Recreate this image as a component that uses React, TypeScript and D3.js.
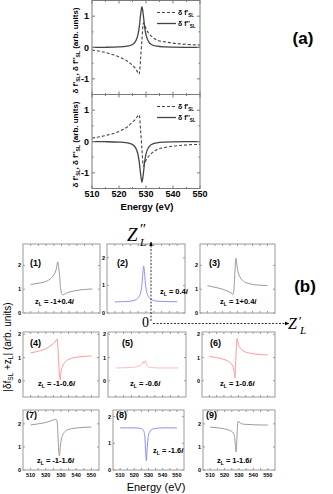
import React from "react";
import * as d3 from "d3";

// energy grid (eV) shared by all curves
const energy = [510, 515, 520, 523, 525, 526, 526.5, 527, 527.5, 528, 528.5, 529, 529.5, 530, 531, 532, 534, 537, 540, 545, 550];

// panel (a), upper: delta f' (dashed) and delta f'' (solid)
const dfReTop = [-0.08, -0.16, -0.3, -0.43, -0.57, -0.66, -0.73, -0.8, -0.85, -0.35, 0.25, 0.78, 0.72, 0.6, 0.45, 0.36, 0.24, 0.18, 0.14, 0.1, 0.08];
const dfImTop = [0.004, 0.007, 0.018, 0.042, 0.098, 0.18, 0.26, 0.4, 0.65, 1.04, 1.3, 1.04, 0.65, 0.4, 0.18, 0.098, 0.042, 0.018, 0.01, 0.005, 0.003];
// panel (a), lower
const dfReBot = [0.11, 0.19, 0.32, 0.46, 0.62, 0.7, 0.76, 0.82, 0.85, 0.35, -0.25, -0.78, -0.7, -0.6, -0.47, -0.38, -0.26, -0.19, -0.15, -0.11, -0.09];
const dfImBot = [-0.004, -0.007, -0.018, -0.042, -0.098, -0.18, -0.26, -0.4, -0.65, -1.04, -1.3, -1.04, -0.65, -0.4, -0.18, -0.098, -0.042, -0.018, -0.01, -0.005, -0.003];

// panel (b): |delta f_SL + z_L| for the nine z_L values
const abs1 = [1.2, 1.25, 1.33, 1.45, 1.6, 1.72, 1.82, 1.97, 2.15, 2.0, 1.75, 1.35, 1.0, 0.82, 0.76, 0.79, 0.86, 0.91, 0.95, 0.99, 1.01];
const abs2 = [0.4, 0.41, 0.43, 0.47, 0.55, 0.64, 0.72, 0.86, 1.1, 1.45, 1.7, 1.5, 1.15, 0.9, 0.66, 0.56, 0.47, 0.43, 0.42, 0.41, 0.41];
const abs3 = [1.15, 1.08, 1.0, 0.93, 0.87, 0.83, 0.8, 0.78, 0.9, 1.4, 2.0, 2.3, 2.05, 1.82, 1.6, 1.47, 1.33, 1.25, 1.2, 1.17, 1.15];
const abs4 = [1.2, 1.27, 1.38, 1.5, 1.6, 1.66, 1.71, 1.76, 1.8, 1.4, 0.8, 0.2, 0.05, 0.4, 0.62, 0.75, 0.88, 0.97, 1.01, 1.05, 1.07];
const abs5 = [0.55, 0.56, 0.57, 0.6, 0.64, 0.67, 0.7, 0.76, 0.84, 0.74, 0.78, 0.88, 0.76, 0.66, 0.6, 0.57, 0.56, 0.55, 0.55, 0.55, 0.55];
const abs6 = [1.05, 1.0, 0.92, 0.84, 0.74, 0.64, 0.56, 0.4, 0.12, 0.7, 1.4, 1.82, 1.7, 1.56, 1.43, 1.35, 1.26, 1.2, 1.16, 1.13, 1.11];
const abs7 = [1.95, 2.0, 2.06, 2.12, 2.17, 2.19, 2.2, 2.18, 2.08, 1.5, 0.85, 0.62, 0.98, 1.25, 1.5, 1.62, 1.73, 1.79, 1.82, 1.85, 1.86];
const abs8 = [1.58, 1.58, 1.58, 1.57, 1.55, 1.52, 1.48, 1.4, 1.2, 0.7, 0.35, 0.75, 1.1, 1.3, 1.45, 1.51, 1.55, 1.57, 1.58, 1.58, 1.58];
const abs9 = [1.86, 1.83, 1.78, 1.73, 1.67, 1.6, 1.54, 1.4, 1.05, 0.78, 1.3, 1.95, 2.12, 2.08, 2.03, 2.0, 1.98, 1.97, 1.96, 1.95, 1.95];

const zReal = ["-1+0.4", "", "1+0.4", "-1-0.6", "-0.6", "1-0.6", "-1-1.6", "-1.6", "1-1.6"];
const zImagOnly = ["", "0.4", "", "", "", "", "", "", ""];
const xTickLabels = [510, 520, 530, 540, 550];
const yTicksA = [-1, 0, 1];
const yTicksB = [0, 1, 2];

const SANS = "'Liberation Sans', Arial, Helvetica, sans-serif";
const SERIF = "'Liberation Serif', 'Times New Roman', serif";

const gray = "#8f8f8f";
const blue = "#8080ff";
const red = "#ff8c8c";
const lightRed = "#ffb3b3";

// layout of the nine small frames
const small = [
  { x0: 23, x1: 100, y0: 244, y1: 313, dom: [0, 2.9], color: gray, nx: 30, ny: 266, zx: 35, zy: 304 },
  { x0: 107, x1: 185, y0: 244, y1: 313, dom: [0, 2.5], color: blue, nx: 117, ny: 266, zx: 160, zy: 294 },
  { x0: 200, x1: 275, y0: 244, y1: 313, dom: [0, 2.9], color: gray, nx: 209, ny: 266, zx: 220, zy: 304 },
  { x0: 23, x1: 99, y0: 332, y1: 397, dom: [-0.7, 2.1], color: red, nx: 30, ny: 346, zx: 38, zy: 386 },
  { x0: 108, x1: 186, y0: 332, y1: 397, dom: [-0.7, 2.1], color: lightRed, nx: 122, ny: 346, zx: 130, zy: 386 },
  { x0: 202, x1: 275, y0: 332, y1: 397, dom: [-0.7, 2.1], color: red, nx: 210, ny: 346, zx: 220, zy: 386 },
  { x0: 23, x1: 99, y0: 410, y1: 470, dom: [0, 2.6], color: gray, nx: 26, ny: 418, zx: 37, zy: 463 },
  { x0: 113, x1: 184, y0: 410, y1: 470, dom: [0, 2.25], color: blue, nx: 116, ny: 418, zx: 153, zy: 453 },
  { x0: 203, x1: 275, y0: 410, y1: 470, dom: [0, 2.6], color: gray, nx: 206, ny: 418, zx: 217, zy: 463 },
];
const smallValues = [abs1, abs2, abs3, abs4, abs5, abs6, abs7, abs8, abs9];

function ZLabel({ x, y, idx }: { x: number; y: number; idx: number }) {
  const pure = zImagOnly[idx] !== "";
  const num = pure ? zImagOnly[idx] : zReal[idx];
  return (
    <text x={x} y={y} fontFamily={SANS} fontWeight="bold" fontSize={7.5} fill="#000">
      z<tspan fontSize={5} dy={2}>L</tspan>
      <tspan dy={-2}>{" = " + num}</tspan>
      <tspan fontStyle="italic">i</tspan>
    </text>
  );
}

function SmallPanel({ idx }: { idx: number }) {
  const L = small[idx];
  const vals = smallValues[idx];
  const x = d3.scaleLinear().domain([505, 555]).range([L.x0, L.x1]);
  const y = d3.scaleLinear().domain(L.dom).range([L.y1, L.y0]);
  const line = d3
    .line<number>()
    .x((_, i) => x(energy[i]))
    .y((v) => y(v))
    .curve(d3.curveMonotoneX);
  const xt = d3.range(510, 551, 5);
  const bottomRow = idx >= 6;
  return (
    <g>
      <path d={line(vals) || ""} fill="none" stroke={L.color} strokeWidth={0.9} />
      <rect x={L.x0} y={L.y0} width={L.x1 - L.x0} height={L.y1 - L.y0} fill="none" stroke="#9a9a9a" strokeWidth={1} />
      {xt.map((t) => (
        <g key={t}>
          <line x1={x(t)} x2={x(t)} y1={L.y1} y2={L.y1 - 2} stroke="#9a9a9a" />
          <line x1={x(t)} x2={x(t)} y1={L.y0} y2={L.y0 + 2} stroke="#9a9a9a" />
        </g>
      ))}
      {yTicksB.map((t) => (
        <g key={t}>
          <line x1={L.x0} x2={L.x0 + 2} y1={y(t)} y2={y(t)} stroke="#9a9a9a" />
          <line x1={L.x1} x2={L.x1 - 2} y1={y(t)} y2={y(t)} stroke="#9a9a9a" />
          <text x={L.x0 - 2} y={y(t) + 2} textAnchor="end" fontFamily={SANS} fontWeight="bold" fontSize={5.5}>
            {t}
          </text>
        </g>
      ))}
      {bottomRow &&
        xTickLabels.map((t) => (
          <text key={t} x={x(t)} y={L.y1 + 7} textAnchor="middle" fontFamily={SANS} fontWeight="bold" fontSize={5.5}>
            {t}
          </text>
        ))}
      <text x={L.nx} y={L.ny} fontFamily={SANS} fontWeight="bold" fontSize={9}>
        ({idx + 1})
      </text>
      <ZLabel x={L.zx} y={L.zy} idx={idx} />
    </g>
  );
}

function PanelA({ top, re, im }: { top: number; re: number[]; im: number[] }) {
  const x = d3.scaleLinear().domain([510, 550]).range([92, 200]);
  const y = d3.scaleLinear().domain([-1.5, 1.5]).range([top + 94, top]);
  const line = d3
    .line<number>()
    .x((_, i) => x(energy[i]))
    .y((v) => y(v))
    .curve(d3.curveMonotoneX);
  const xt = d3.range(510, 551, 5);
  const yt = d3.range(-1.5, 1.51, 0.5);
  const ax = "#7a7a7a";
  return (
    <g>
      <path d={line(re) || ""} fill="none" stroke="#444" strokeWidth={1.1} strokeDasharray="3,2" />
      <path d={line(im) || ""} fill="none" stroke="#444" strokeWidth={1.3} />
      <rect x={92} y={top} width={108} height={94} fill="none" stroke={ax} strokeWidth={1} />
      {xt.map((t) => {
        const len = t % 10 === 0 ? 3 : 1.5;
        return (
          <g key={t}>
            <line x1={x(t)} x2={x(t)} y1={top + 94} y2={top + 94 - len} stroke={ax} />
            <line x1={x(t)} x2={x(t)} y1={top} y2={top + len} stroke={ax} />
          </g>
        );
      })}
      {yt.map((t) => {
        const len = Number.isInteger(t) ? 3 : 1.5;
        return (
          <g key={t}>
            <line x1={92} x2={92 + len} y1={y(t)} y2={y(t)} stroke={ax} />
            <line x1={200} x2={200 - len} y1={y(t)} y2={y(t)} stroke={ax} />
          </g>
        );
      })}
      {yTicksA.map((t) => (
        <text key={t} x={89} y={y(t) + 3} textAnchor="end" fontFamily={SANS} fontWeight="bold" fontSize={9}>
          {t}
        </text>
      ))}
      {/* legend */}
      <line x1={157} x2={176} y1={top + 12} y2={top + 12} stroke="#444" strokeWidth={1.1} strokeDasharray="3,2" />
      <line x1={157} x2={176} y1={top + 23} y2={top + 23} stroke="#444" strokeWidth={1.3} />
      <text x={178} y={top + 14.5} fontFamily={SANS} fontWeight="bold" fontSize={7}>
        δ f'<tspan fontSize={4.5} dy={2}>SL</tspan>
      </text>
      <text x={178} y={top + 25.5} fontFamily={SANS} fontWeight="bold" fontSize={7}>
        δ f''<tspan fontSize={4.5} dy={2}>SL</tspan>
      </text>
      <text transform={`translate(78,${top + 50}) rotate(-90)`} textAnchor="middle" fontFamily={SANS} fontWeight="bold" fontSize={8}>
        δ f'<tspan fontSize={5} dy={2}>SL</tspan>
        <tspan dy={-2}>, δ f''</tspan>
        <tspan fontSize={5} dy={2}>SL</tspan>
        <tspan dy={-2}> (arb. units)</tspan>
      </text>
    </g>
  );
}

export default function App() {
  const xA = d3.scaleLinear().domain([510, 550]).range([92, 200]);
  return (
    <svg width={333} height={494} style={{ position: "absolute", left: 0, top: 0, background: "#fff" }}>
      <defs>
        <marker id="arr" viewBox="0 0 10 10" refX={9} refY={5} markerWidth={6} markerHeight={6} orient="auto">
          <path d="M0,1 L10,5 L0,9 z" fill="#000" />
        </marker>
      </defs>
      <rect width={333} height={494} fill="#fff" />
      <PanelA top={0.5} re={dfReTop} im={dfImTop} />
      <PanelA top={94.5} re={dfReBot} im={dfImBot} />
      {xTickLabels.map((t) => (
        <text key={t} x={xA(t)} y={197} textAnchor="middle" fontFamily={SANS} fontWeight="bold" fontSize={9}>
          {t}
        </text>
      ))}
      <text x={147} y={210} textAnchor="middle" fontFamily={SANS} fontWeight="bold" fontSize={9.5}>
        Energy (eV)
      </text>
      <text x={303} y={44} textAnchor="middle" fontFamily={SANS} fontWeight="bold" fontSize={17}>
        (a)
      </text>

      {small.map((_, i) => (
        <SmallPanel key={i} idx={i} />
      ))}

      {/* complex-plane axes */}
      <line x1={151} y1={321} x2={151} y2={242} stroke="#000" strokeWidth={0.8} strokeDasharray="2,1.5" markerEnd="url(#arr)" />
      <line x1={153} y1={323.5} x2={289} y2={323.5} stroke="#000" strokeWidth={0.8} strokeDasharray="2,1.5" markerEnd="url(#arr)" />
      <text x={127} y={241} fontFamily={SERIF} fontStyle="italic" fontSize={19}>
        Z
      </text>
      <text x={139} y={234} fontFamily={SERIF} fontStyle="italic" fontSize={15}>
        ″
      </text>
      <text x={140} y={246} fontFamily={SERIF} fontStyle="italic" fontSize={11}>
        L
      </text>
      <text x={142} y={327} fontFamily={SERIF} fontSize={14}>
        0
      </text>
      <text x={288} y={329} fontFamily={SERIF} fontStyle="italic" fontSize={16}>
        Z
      </text>
      <text x={298} y={325} fontFamily={SERIF} fontStyle="italic" fontSize={13}>
        ′
      </text>
      <text x={300} y={334} fontFamily={SERIF} fontStyle="italic" fontSize={11}>
        L
      </text>
      <text x={305} y={292} textAnchor="middle" fontFamily={SANS} fontWeight="bold" fontSize={17}>
        (b)
      </text>

      <text transform="translate(11,347) rotate(-90)" textAnchor="middle" fontFamily={SANS} fontSize={10}>
        |δf<tspan fontSize={6.5} dy={2}>SL</tspan>
        <tspan dy={-2}> +z</tspan>
        <tspan fontSize={6.5} dy={2}>L</tspan>
        <tspan dy={-2}>| (arb. units)</tspan>
      </text>
      <text x={156} y={491} textAnchor="middle" fontFamily={SANS} fontSize={11}>
        Energy (eV)
      </text>
    </svg>
  );
}
